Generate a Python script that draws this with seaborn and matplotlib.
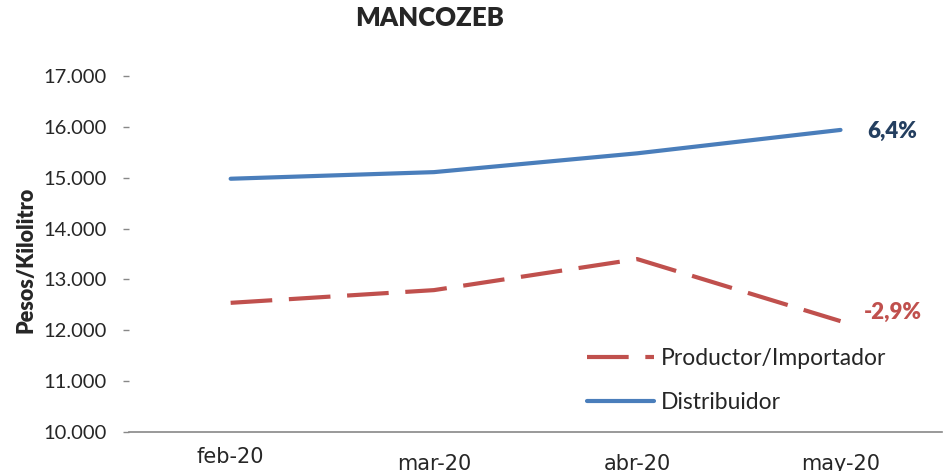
import matplotlib
matplotlib.use("Agg")
import matplotlib.pyplot as plt
import seaborn as sns
import pandas as pd
from matplotlib.lines import Line2D

months = ["feb-20", "mar-20", "abr-20", "may-20"]
productor = [12540, 12790, 13400, 12180]
distribuidor = [14980, 15110, 15480, 15940]
series_names = ["Productor/Importador", "Distribuidor"]
var_labels = ["-2,9%", "6,4%"]
yticks = [10000, 11000, 12000, 13000, 14000, 15000, 16000, 17000]
ytick_labels = ["10.000", "11.000", "12.000", "13.000", "14.000", "15.000", "16.000", "17.000"]

sns.set_theme(style="white")
plt.rcParams["font.family"] = ["Lato", "DejaVu Sans"]

df = pd.DataFrame({
    "x": list(range(len(months))) * 2,
    "valor": productor + distribuidor,
    "serie": [series_names[0]] * len(months) + [series_names[1]] * len(months),
})

c_red = "#c0504d"
c_blue = "#4a7ebb"
c_blue_txt = "#243f60"
c_txt = "#262626"
dash = (10, 4)

fig = plt.figure(figsize=(9.45, 4.71), dpi=100)
ax = fig.add_axes([0.1365, 0.0828, 0.8605, 0.7558])

sns.lineplot(data=df, x="x", y="valor", hue="serie", style="serie",
             palette={series_names[0]: c_red, series_names[1]: c_blue},
             dashes={series_names[0]: dash, series_names[1]: ""},
             linewidth=3, ax=ax, legend=False)

ax.set_xlim(-0.5, len(months) - 0.5)
ax.set_ylim(10000, 17000)
ax.set_yticks(yticks)
ax.set_yticklabels(ytick_labels, fontsize=14.5, color=c_txt)
ax.set_xticks(range(len(months)))
ax.set_xticklabels(months, fontsize=15, color=c_txt, family="DejaVu Sans")
ax.set_xticks([i - 0.5 for i in range(len(months) + 1)], minor=True)
ax.tick_params(axis="x", which="major", length=0)
ax.tick_params(axis="x", which="minor", length=6, color="#888888", width=1, direction="out")
ax.tick_params(axis="y", which="major", length=4, color="#888888", width=1, pad=12, left=True)
for i, t in enumerate(ax.xaxis.get_major_ticks()):
    t.set_pad(11 if i == 0 else 16)
ax.set_xlabel("")
ax.set_ylabel("")
for s in ["top", "right", "left"]:
    ax.spines[s].set_visible(False)
ax.spines["bottom"].set_color("#888888")
ax.spines["bottom"].set_linewidth(1.2)

# annotations
ax.annotate(var_labels[1], xy=(len(months) - 1, distribuidor[-1]), xytext=(19, -1),
            textcoords="offset points", fontsize=16, fontweight="heavy",
            color=c_blue_txt, va="center", ha="left")
ax.annotate(var_labels[0], xy=(len(months) - 1, productor[-1]), xytext=(17, 6),
            textcoords="offset points", fontsize=16, fontweight="heavy",
            color=c_red, va="center", ha="left")

handles = [
    Line2D([], [], color=c_red, linewidth=3, dashes=dash),
    Line2D([], [], color=c_blue, linewidth=3),
]
leg = ax.legend(handles, series_names, loc="lower left", bbox_to_anchor=(0.538, -0.005),
                frameon=False, fontsize=16.5, handlelength=2.93, handletextpad=0.3,
                labelspacing=1.03)
for txt in leg.get_texts():
    txt.set_color(c_txt)

fig.text(430 / 945, 1 - 18 / 471, "MANCOZEB", fontsize=18.5, fontweight="heavy",
         ha="center", va="center", color=c_txt)
fig.text(26 / 945, 1 - 260 / 471, "Pesos/Kilolitro", fontsize=15.5, fontweight="heavy",
         rotation=90, ha="center", va="center", color=c_txt)

fig.savefig("out.png", dpi=100)
